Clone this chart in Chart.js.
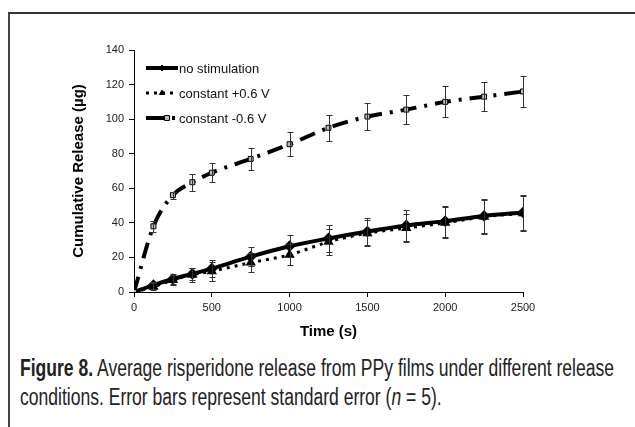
<!DOCTYPE html>
<html>
<head>
<meta charset="utf-8">
<script src="https://cdn.jsdelivr.net/npm/chart.js@4"></script>
<style>
  body { margin: 0; background: #fff; width: 635px; height: 427px; overflow: hidden; position: relative; }
  #frame { position: absolute; left: 8px; top: 12px; width: 700px; height: 500px;
           border-top: 2px solid #333; border-left: 2px solid #444; }
  #wrap { position: absolute; left: 0; top: 0; width: 635px; height: 345px; }
  #caption { position: absolute; left: 20px; top: 354px;
             font-family: "Liberation Sans", Arial, sans-serif;
             font-size: 23px; line-height: 29px; color: #222; }
  #caption div { white-space: nowrap; transform-origin: 0 0; }
  #caption b { font-weight: bold; }
</style>
</head>
<body>
<div id="frame"></div>
<div id="wrap"><canvas id="releaseChart" width="635" height="345"></canvas></div>
<div id="caption">
  <div id="cap1"><b>Figure 8.</b> Average risperidone release from PPy films under different release</div>
  <div id="cap2">conditions. Error bars represent standard error (<i>n</i> = 5).</div>
</div>
<script>
// time points (s)
const times = [0, 125, 250, 375, 500, 750, 1000, 1250, 1500, 1750, 2000, 2250, 2500];

// cumulative release (ug) and standard error for each condition
const noStim     = [0, 4, 7.5, 10.5, 13.5, 20.5, 26.5, 31, 35, 38.5, 41, 44, 46];
const noStimErr  = [0, 2, 3, 3.5, 5, 5.5, 6.5, 8, 8, 9, 9, 10, 10];
const plusV      = [0, 3, 7, 10, 12, 17, 21.5, 29, 34, 37, 40, 43.5, 45.5];
const plusVErr   = [0, 2, 3, 4, 5.5, 5.5, 6, 7.5, 7.5, 8, 9, 10, 10];
const minusV     = [0, 38, 56, 63.5, 69, 77, 85.5, 95, 101.5, 105.5, 110, 113, 116];
const minusVErr  = [0, 3, 2, 5, 5.5, 6.5, 7, 7.5, 8, 8.5, 9, 8.5, 9];

const seriesNames = ['no stimulation', 'constant +0.6 V', 'constant -0.6 V'];
const xTicks = [0, 500, 1000, 1500, 2000, 2500];
const yTicks = [0, 20, 40, 60, 80, 100, 120, 140];

const toPoints = (vals) => times.map((t, i) => ({ x: t, y: vals[i] }));
const errs = [noStimErr, plusVErr, minusVErr];

// caption is set in a condensed face in the original; squeeze both lines the same amount
const cap1 = document.getElementById('cap1');
const squeeze = 594 / cap1.getBoundingClientRect().width;
document.querySelectorAll('#caption div').forEach(d => { d.style.transform = 'scaleX(' + squeeze + ')'; });

// error bars, drawn with the chart's own scales
const errorBars = {
  id: 'errorBars',
  afterDatasetsDraw(chart) {
    const { ctx, scales: { x, y } } = chart;
    ctx.save();
    ctx.strokeStyle = '#333';
    ctx.lineWidth = 1;
    chart.data.datasets.forEach((ds) => {
      ds.data.forEach((p, i) => {
        const e = errs[ds.errIndex][i];
        if (!e) return;
        const px = Math.round(x.getPixelForValue(p.x)) + 0.5;
        const top = Math.round(y.getPixelForValue(p.y + e)) + 0.5;
        const bot = Math.round(y.getPixelForValue(p.y - e)) + 0.5;
        ctx.beginPath();
        ctx.moveTo(px, top); ctx.lineTo(px, bot);
        ctx.moveTo(px - 3, top); ctx.lineTo(px + 3, top);
        ctx.moveTo(px - 3, bot); ctx.lineTo(px + 3, bot);
        ctx.stroke();
      });
    });
    ctx.restore();
  }
};

// legend in the upper-left of the plot, like the Excel original
const insideLegend = {
  id: 'insideLegend',
  afterDraw(chart) {
    const { ctx } = chart;
    const order = [1, 2, 0]; // dataset index for each row: no stim, +0.6, -0.6
    ctx.save();
    order.forEach((di, row) => {
      const ds = chart.data.datasets[di];
      const yy = 68 + row * 25;
      const x0 = 146, x1 = 178;
      ctx.strokeStyle = '#000';
      ctx.lineWidth = ds.borderWidth;
      ctx.setLineDash(ds.legendDash || ds.borderDash || []);
      ctx.beginPath(); ctx.moveTo(x0, yy); ctx.lineTo(x1, yy); ctx.stroke();
      ctx.setLineDash([]);
      const mx = ds.legendMarkX || 162;
      ctx.fillStyle = ds.pointBackgroundColor;
      ctx.strokeStyle = '#000';
      ctx.lineWidth = 1;
      Chart.helpers.drawPoint(ctx, { pointStyle: ds.pointStyle, radius: ds.pointRadius, borderWidth: 1, rotation: 0 }, mx, yy);
      ctx.fillStyle = '#111';
      ctx.font = '13px "Liberation Sans", Arial, sans-serif';
      ctx.textBaseline = 'middle';
      ctx.fillText(seriesNames[ds.errIndex], x1 + 1, yy + 1);
    });
    ctx.restore();
  }
};

const tickFont = { family: '"Liberation Sans", Arial', size: 11 };
const titleFont = { family: '"Liberation Sans", Arial', size: 15, weight: 'bold' };

new Chart(document.getElementById('releaseChart'), {
  type: 'line',
  data: {
    datasets: [
      {
        label: seriesNames[2], errIndex: 2, data: toPoints(minusV),
        borderColor: '#000', borderWidth: 4, borderDash: [16, 8, 3, 8],
        legendDash: [20, 6, 3, 6], legendMarkX: 167,
        pointStyle: 'rect', pointRadius: 3.5, pointBackgroundColor: '#bbb', pointBorderColor: '#000',
        pointBorderWidth: 1, cubicInterpolationMode: 'monotone'
      },
      {
        label: seriesNames[0], errIndex: 0, data: toPoints(noStim),
        borderColor: '#000', borderWidth: 4,
        pointStyle: 'rectRot', pointRadius: 3, pointBackgroundColor: '#000', pointBorderColor: '#000',
        cubicInterpolationMode: 'monotone'
      },
      {
        label: seriesNames[1], errIndex: 1, data: toPoints(plusV),
        borderColor: '#000', borderWidth: 3, borderDash: [3, 5],
        pointStyle: 'triangle', pointRadius: 3, pointBackgroundColor: '#000', pointBorderColor: '#000',
        cubicInterpolationMode: 'monotone'
      }
    ]
  },
  options: {
    responsive: false,
    animation: false,
    layout: { padding: { left: 70, top: 50, right: 112, bottom: 0 } },
    plugins: { legend: { display: false }, tooltip: { enabled: false } },
    scales: {
      x: {
        type: 'linear', min: 0, max: 2500,
        afterBuildTicks: (s) => { s.ticks = xTicks.map(v => ({ value: v })); },
        afterFit: (s) => { s.height = 53; },
        grid: { drawOnChartArea: false, drawTicks: true, tickLength: 5, color: '#000' },
        border: { color: '#000', width: 1 },
        ticks: { color: '#222', font: tickFont, padding: 4, maxRotation: 0, callback: (v) => String(v) },
        title: { display: true, text: 'Time (s)', color: '#000', font: titleFont, padding: { top: 6 } }
      },
      y: {
        min: 0, max: 140,
        afterBuildTicks: (s) => { s.ticks = yTicks.map(v => ({ value: v })); },
        afterFit: (s) => { s.width = 64; },
        grid: { drawOnChartArea: false, drawTicks: true, tickLength: 5, color: '#000' },
        border: { color: '#000', width: 1 },
        ticks: { color: '#222', font: tickFont, padding: 5, callback: (v) => String(v) },
        title: { display: true, text: 'Cumulative Release (µg)', color: '#000', font: titleFont, padding: 0 }
      }
    }
  },
  plugins: [errorBars, insideLegend]
});
</script>
</body>
</html>
